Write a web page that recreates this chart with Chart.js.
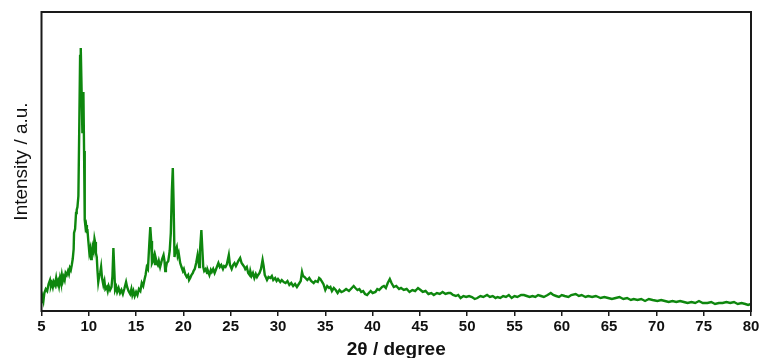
<!DOCTYPE html>
<html>
<head>
<meta charset="utf-8">
<script src="https://cdn.jsdelivr.net/npm/chart.js@4/dist/chart.umd.min.js"></script>
<style>
html,body{margin:0;padding:0;background:#fff;}
#wrap{width:763px;height:358px;position:relative;}
</style>
</head>
<body>
<div id="wrap"><canvas id="c" width="763" height="358"></canvas></div>
<script>
// 2θ positions (degree)
const twoTheta = [
5.0,5.1,5.2,5.3,5.45,5.6,5.75,5.9,6.0,6.1,6.2,6.3,6.43,6.55,6.65,6.75,6.85,6.96,7.05,7.15,7.25,7.35,7.45,7.55,7.67,7.8,7.9,8.0,8.1,8.2,8.3,8.4,8.44,8.55,8.65,8.72,8.8,8.9,9.0,9.08,9.15,9.22,9.32,9.38,9.43,9.5,9.57,9.65,9.71,9.8,9.85,9.95,10.06,10.15,10.25,10.31,10.4,10.5,10.6,10.66,10.75,10.84,10.92,11.0,11.1,11.2,11.3,11.4,11.54,11.65,11.75,11.9,12.0,12.1,12.25,12.4,12.5,12.6,12.7,12.78,12.9,13.0,13.15,13.3,13.45,13.6,13.75,13.94,14.05,14.2,14.37,14.5,14.6,14.72,14.85,15.0,15.14,15.3,15.45,15.6,15.75,15.9,16.0,16.13,16.25,16.4,16.5,16.6,16.68,16.77,16.9,17.0,17.1,17.2,17.3,17.4,17.54,17.65,17.75,17.9,18.0,18.08,18.15,18.25,18.4,18.55,18.67,18.78,18.88,18.96,19.06,19.15,19.3,19.4,19.5,19.66,19.8,19.95,20.05,20.19,20.35,20.5,20.6,20.72,20.85,21.0,21.07,21.2,21.35,21.5,21.6,21.67,21.75,21.9,22.0,22.1,22.2,22.35,22.5,22.6,22.75,22.9,23.0,23.15,23.3,23.5,23.7,23.85,24.0,24.18,24.3,24.45,24.6,24.8,24.92,25.1,25.25,25.4,25.55,25.66,25.8,26.0,26.15,26.3,26.45,26.54,26.7,26.85,27.0,27.07,27.2,27.35,27.5,27.65,27.78,27.9,28.05,28.2,28.37,28.48,28.6,28.75,28.84,29.0,29.19,29.35,29.5,29.7,29.85,30.0,30.24,30.4,30.6,30.8,31.0,31.2,31.4,31.6,31.8,32.0,32.2,32.4,32.54,32.65,32.8,32.9,33.1,33.3,33.5,33.77,33.95,34.2,34.35,34.48,34.6,34.8,35.0,35.2,35.4,35.54,35.7,35.9,36.1,36.3,36.5,36.7,36.95,37.2,37.5,37.8,38.0,38.18,38.4,38.6,38.8,39.0,39.2,39.42,39.6,39.8,40.0,40.3,40.5,40.7,41.0,41.2,41.4,41.6,41.82,42.0,42.24,42.5,42.8,43.0,43.3,43.6,43.9,44.2,44.5,44.8,45.07,45.3,45.6,45.9,46.2,46.47,46.8,47.1,47.4,47.7,48.0,48.24,48.5,48.8,49.05,49.3,49.6,49.9,50.2,50.5,50.8,51.07,51.4,51.7,52.1,52.4,52.7,53.0,53.2,53.5,53.8,54.1,54.4,54.7,55.0,55.3,55.7,56.0,56.3,56.6,56.9,57.2,57.5,57.8,58.1,58.5,58.83,59.1,59.4,59.7,60.0,60.3,60.7,61.0,61.47,61.8,62.1,62.5,62.8,63.2,63.6,64.1,64.5,64.9,65.3,65.7,66.1,66.5,66.9,67.3,67.6,68.0,68.4,68.8,69.2,69.6,70.1,70.5,70.9,71.3,71.7,72.1,72.5,72.9,73.3,73.7,74.1,74.5,74.9,75.4,75.8,76.2,76.6,77.0,77.4,77.8,78.2,78.6,79.0,79.4,79.7,80.0
];
// Intensity (a.u.)
const intensity = [
8,14,10,18,22,20,27,31,25,28,24,29,26,33,27,30,25,33,29,36,30,34,31,38,36,40,37,43,41,46,52,62,78,82,98,101,104,115,190,255,263,230,179,210,219,160,91,84,86,78,82,70,58,62,52,56,64,60,72,69,58,54,40,29,35,38,44,33,26,30,22,24,20,25,21,24,35,63,40,21,24,19,23,18,21,17,22,29,24,20,17,22,16,20,15,19,16,22,20,28,25,32,36,44,42,68,84,70,48,50,55,47,52,48,46,50,44,48,52,56,50,40,43,48,50,60,78,120,143,110,54,60,64,55,58,48,44,40,42,37,34,36,31,33,36,38,40,42,48,56,50,44,60,81,62,44,40,42,38,40,36,41,39,42,38,43,48,44,46,42,45,44,47,56,46,42,46,48,45,47,50,53,48,46,44,42,44,38,36,40,35,38,33,37,34,36,38,42,51,45,36,33,31,34,33,35,31,33,30,32,29,31,29,28,30,26,28,25,27,24,27,30,39,35,34,33,31,33,30,28,30,29,33,32,30,27,21,25,23,24,20,23,21,18,21,19,20,22,20,23,25,23,21,22,19,20,17,16,18,20,18,19,22,21,24,25,23,28,32,28,24,25,22,23,21,22,19,21,20,23,21,19,20,17,18,16,18,17,19,17,18,18,16,15,16,13,15,14,15,14,12,13,15,14,16,14,15,13,14,13,15,14,16,13,15,14,16,16,15,14,15,14,16,15,14,16,18,16,15,14,16,15,14,16,17,15,16,14,15,14,15,13,14,13,12,13,14,12,13,11,12,11,12,10,12,11,10,11,10,9,10,9,10,9,8,9,8,10,8,8,9,7,8,8,9,8,9,7,8,7,6,7
];
const xTickMin = 5, xTickMax = 80, xTickStep = 5;
const yMin = 0, yMax = 299;
const xTitle = '2θ / degree';
const yTitle = 'Intensity / a.u.';

const points = twoTheta.map((t, i) => ({x: t, y: intensity[i]}));

const framePlugin = {
  id: 'frame',
  afterDatasetsDraw(chart) {
    const a = chart.chartArea, ctx = chart.ctx;
    ctx.save();
    ctx.strokeStyle = '#1a1a1a';
    ctx.lineWidth = 2;
    ctx.strokeRect(a.left, a.top, a.right - a.left, a.bottom - a.top);
    ctx.restore();
  }
};

new Chart(document.getElementById('c'), {
  type: 'line',
  data: {
    datasets: [{
      data: points,
      borderColor: '#0e870e',
      borderWidth: 2.4,
      pointRadius: 0,
      tension: 0,
      fill: false
    }]
  },
  options: {
    responsive: false,
    animation: false,
    events: [],
    layout: {padding: {top: 12, right: 12, left: 0, bottom: 0}},
    plugins: {legend: {display: false}, tooltip: {enabled: false}},
    scales: {
      x: {
        type: 'linear',
        min: xTickMin, max: xTickMax,
        ticks: {stepSize: xTickStep, color: '#111', font: {family: 'Liberation Sans, Arial, sans-serif', size: 15, weight: 'bold'}, padding: 2, maxRotation: 0, autoSkip: false},
        grid: {drawOnChartArea: false, color: '#1a1a1a', lineWidth: 1.5, tickLength: 5},
        border: {display: false},
        title: {display: true, text: xTitle, color: '#111', font: {family: 'Liberation Sans, Arial, sans-serif', size: 19, weight: 'bold', lineHeight: 0.9}, padding: {top: 0, bottom: 0}},
        afterFit(s) { s.height = 47; }
      },
      y: {
        min: yMin, max: yMax,
        ticks: {display: false},
        grid: {display: false},
        border: {display: false},
        title: {display: true, text: yTitle, color: '#111', font: {family: 'Liberation Sans, Arial, sans-serif', size: 19, weight: 'normal', lineHeight: 1.2}, padding: {top: 10, bottom: 0}},
        afterFit(s) { s.width = 41.5; }
      }
    }
  },
  plugins: [framePlugin]
});
</script>
</body>
</html>
